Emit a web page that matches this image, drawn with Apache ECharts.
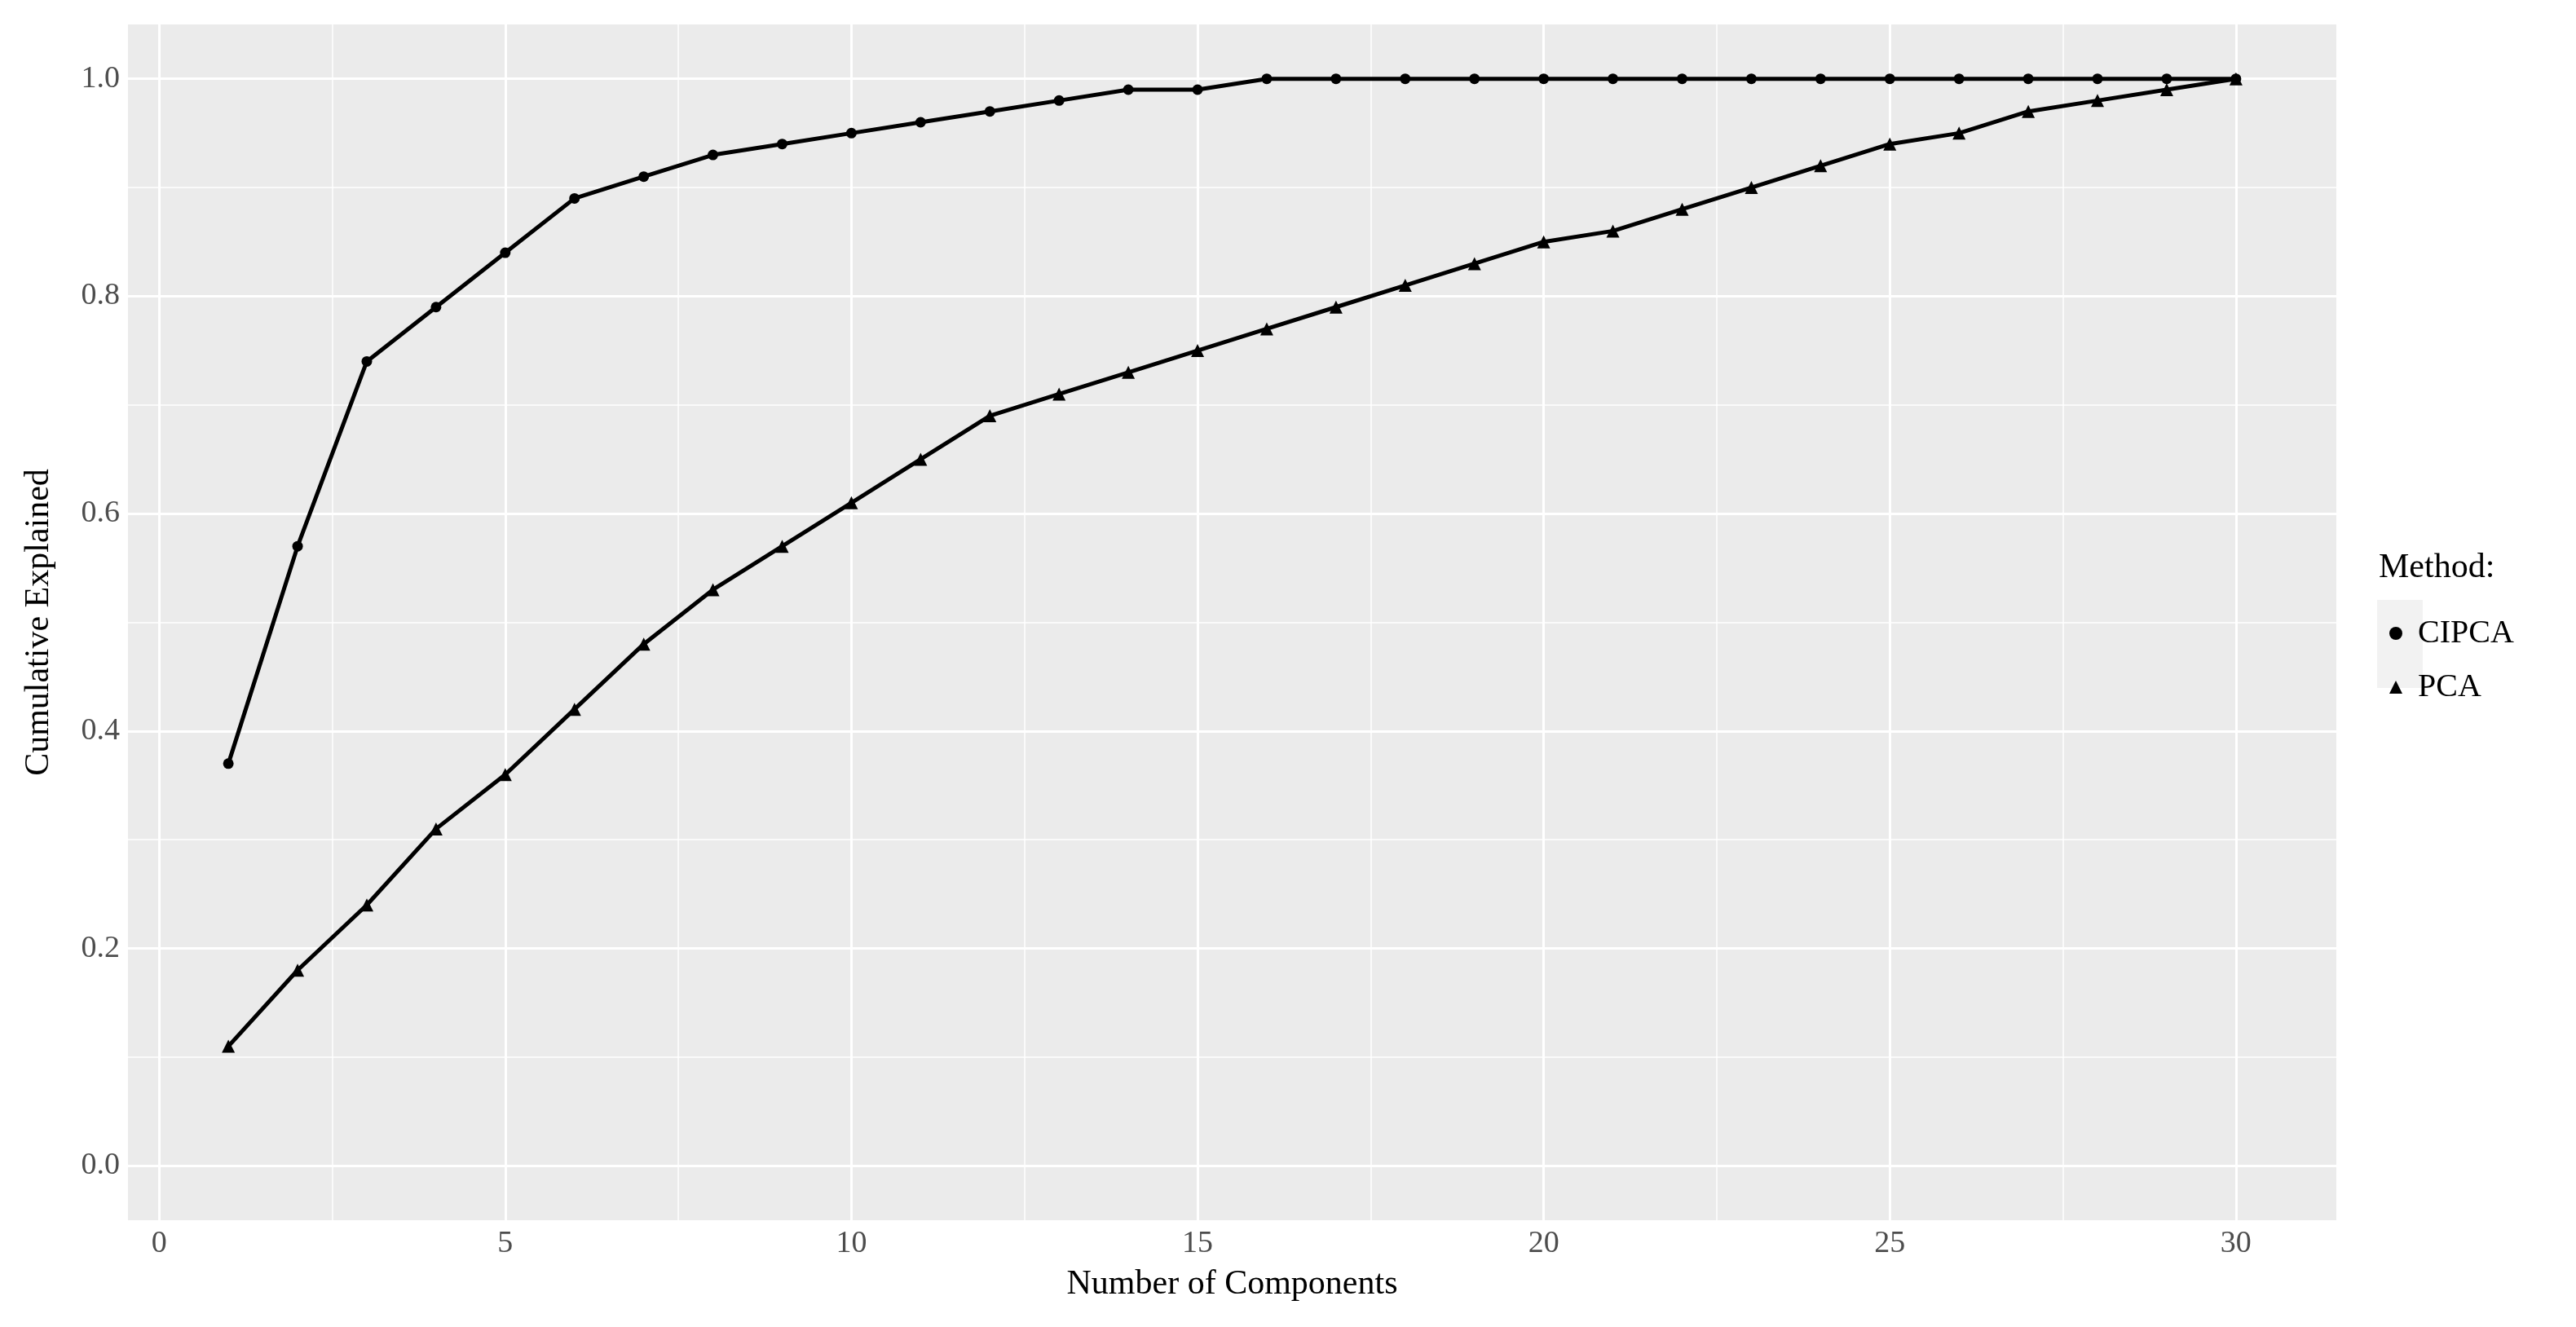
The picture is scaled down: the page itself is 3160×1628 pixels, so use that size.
<!DOCTYPE html>
<html><head><meta charset="utf-8">
<script src="https://cdn.jsdelivr.net/npm/echarts@6/dist/echarts.min.js"></script>
<style>html,body{margin:0;padding:0;background:#fff}#c{width:3160px;height:1628px}</style>
</head><body><div id="c"></div>
<script>
const components = Array.from({length:30},(_,i)=>i+1);
const cipca = [0.37,0.57,0.74,0.79,0.84,0.89,0.91,0.93,0.94,0.95,0.96,0.97,0.98,0.99,0.99,1,1,1,1,1,1,1,1,1,1,1,1,1,1,1];
const pca = [0.11,0.18,0.24,0.31,0.36,0.42,0.48,0.53,0.57,0.61,0.65,0.69,0.71,0.73,0.75,0.77,0.79,0.81,0.83,0.85,0.86,0.88,0.90,0.92,0.94,0.95,0.97,0.98,0.99,1.0];
const xMajor = [0,5,10,15,20,25,30];
const xMinor = [2.5,7.5,12.5,17.5,22.5,27.5];
const yMajor = [0,0.2,0.4,0.6,0.8,1.0];
const yMinor = [0.1,0.3,0.5,0.7,0.9];
const F = 'Liberation Serif';
const grid = [];
xMinor.forEach(v=>grid.push({xAxis:v,lineStyle:{width:1.5}}));
yMinor.forEach(v=>grid.push({yAxis:v,lineStyle:{width:1.5}}));
xMajor.forEach(v=>grid.push({xAxis:v,lineStyle:{width:3}}));
yMajor.forEach(v=>grid.push({yAxis:v,lineStyle:{width:3}}));
const chart = echarts.init(document.getElementById('c'));
chart.setOption({
  animation:false,
  backgroundColor:'#fff',
  grid:{left:157,right:294,top:30,bottom:131,show:true,backgroundColor:'#ebebeb',borderWidth:0},
  xAxis:{type:'value',min:-0.45,max:31.45,splitLine:{show:false},
    axisLine:{show:false},axisTick:{show:true,customValues:xMajor,length:8,lineStyle:{color:'#333',width:2}},
    axisLabel:{customValues:xMajor,fontFamily:F,fontSize:38,color:'#4d4d4d',margin:10},
    name:'Number of Components',nameLocation:'middle',nameGap:58,nameTextStyle:{fontFamily:F,fontSize:42,color:'#000'}},
  yAxis:{type:'value',min:-0.05,max:1.05,splitLine:{show:false},
    axisLine:{show:false},axisTick:{show:true,customValues:yMajor,length:8,lineStyle:{color:'#333',width:2}},
    axisLabel:{customValues:yMajor,fontFamily:F,fontSize:38,color:'#4d4d4d',margin:10,formatter:v=>v.toFixed(1)},
    name:'Cumulative Explained',nameLocation:'middle',nameGap:88,nameTextStyle:{fontFamily:F,fontSize:42,color:'#000'}},
  legend:{orient:'vertical',left:2926,top:752,itemGap:26,itemWidth:16,itemHeight:16,
    textStyle:{fontFamily:F,fontSize:40,color:'#000',padding:[0,0,0,14]},
    data:[{name:'CIPCA',icon:'circle'},{name:'PCA',icon:'triangle'}]},
  graphic:[
    {type:'rect',left:2916,top:736,shape:{width:56,height:108},style:{fill:'#f2f2f2'},z:-1},
    {type:'text',left:2918,top:676,style:{text:'Method:',font:'42px "Liberation Serif"',fill:'#000'}}
  ],
  series:[
    {type:'line',name:'grid',data:[],silent:true,zlevel:0,markLine:{silent:true,symbol:'none',label:{show:false},lineStyle:{color:'#fff',type:'solid'},data:grid}},
    {type:'line',name:'CIPCA',data:components.map((c,i)=>[c,cipca[i]]),symbol:'circle',symbolSize:13,zlevel:1,
      lineStyle:{color:'#000',width:5},itemStyle:{color:'#000'}},
    {type:'line',name:'PCA',data:components.map((c,i)=>[c,pca[i]]),symbol:'triangle',symbolSize:16,zlevel:1,
      lineStyle:{color:'#000',width:5},itemStyle:{color:'#000'}}
  ]
});
</script></body></html>
